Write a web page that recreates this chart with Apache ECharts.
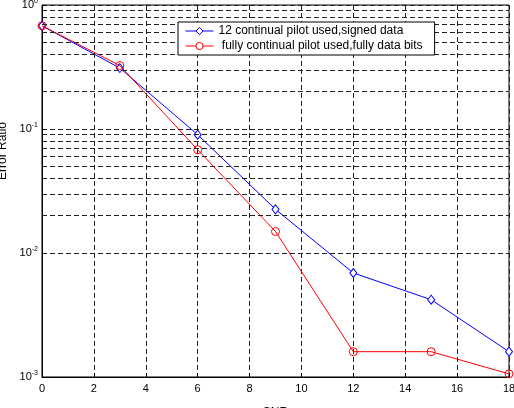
<!DOCTYPE html>
<html>
<head>
<meta charset="utf-8">
<script src="https://cdn.jsdelivr.net/npm/echarts@6/dist/echarts.min.js"></script>
<style>
  html, body { margin: 0; padding: 0; background: #fff; }
  #chart { width: 514px; height: 408px; }
</style>
</head>
<body>
<div id="chart"></div>
<script>
// SNR points and error ratios of the two schemes
var snr = [0, 3, 6, 9, 12, 15, 18];
var signedData = [0.68, 0.31, 0.09, 0.0225, 0.0069, 0.0042, 0.0016];
var fullyData = [0.68, 0.325, 0.068, 0.0149, 0.0016, 0.0016, 0.00106];
var seriesNames = ['12 continual pilot used,signed data', ' fully continual pilot used,fully data bits'];
// minor log grid lines (2..9 in each decade)
var minorGrid = [];
[0.001, 0.01, 0.1].forEach(function (d) {
    for (var k = 2; k <= 9; k++) minorGrid.push(+(k * d).toPrecision(3));
});

function pairs(ys) {
    return snr.map(function (x, i) { return [x, ys[i]]; });
}

var font = '"Liberation Sans", Arial, Helvetica, sans-serif';
var dash = [5, 3];

var myChart = echarts.init(document.getElementById('chart'));
myChart.setOption({
    backgroundColor: '#fff',
    animation: false,
    textStyle: { fontFamily: font },
    grid: {
        left: 42, right: 5, top: 5, bottom: 31,
        outerBoundsMode: 'none',
        containLabel: false,
        show: true,
        borderColor: '#000',
        borderWidth: 1
    },
    legend: {
        left: 178,
        top: 22,
        z: 20,
        orient: 'vertical',
        backgroundColor: '#fff',
        borderColor: '#000',
        borderWidth: 1,
        padding: [3, 12, 3, 7],
        itemWidth: 28,
        itemHeight: 9,
        itemGap: 3,
        textStyle: { fontSize: 12, color: '#000', fontFamily: font },
        data: [
            {
                name: seriesNames[0],
                itemStyle: { color: '#fff', borderColor: '#0000ff', borderWidth: 1 },
                lineStyle: { color: '#0000ff', width: 1 }
            },
            {
                name: seriesNames[1],
                itemStyle: { color: '#fff', borderColor: '#ff0000', borderWidth: 1 },
                lineStyle: { color: '#ff0000', width: 1 }
            }
        ]
    },
    xAxis: {
        type: 'value',
        min: 0,
        max: 18,
        interval: 2,
        name: 'SNR',
        nameLocation: 'middle',
        nameGap: 30,
        nameTextStyle: { fontSize: 12, color: '#000' },
        axisLine: { show: true, lineStyle: { color: '#000' } },
        axisTick: { inside: true, length: 4, lineStyle: { color: '#000' } },
        axisLabel: { fontSize: 11, color: '#000', margin: 6 },
        splitLine: { show: true, lineStyle: { color: '#222', type: dash } }
    },
    yAxis: {
        type: 'log',
        logBase: 10,
        min: 0.001,
        max: 1,
        name: 'Error Ratio',
        nameLocation: 'middle',
        nameGap: 30,
        nameTextStyle: { fontSize: 12, color: '#000', padding: [0, 0, 0, 80] },
        axisLine: { show: true, lineStyle: { color: '#000' } },
        axisTick: { inside: true, length: 4, lineStyle: { color: '#000' } },
        axisLabel: {
            margin: 4,
            color: '#000',
            formatter: function (v) {
                var e = Math.round(Math.log10(v));
                return '{b|10}{s|' + e + '}';
            },
            rich: {
                b: { fontSize: 11, color: '#000' },
                s: { fontSize: 7, color: '#000', padding: [0, 0, 8, 0] }
            }
        },
        splitLine: { show: true, lineStyle: { color: '#222', type: dash } }
    },
    series: [
        {
            name: 'minor grid',
            type: 'line',
            data: [],
            silent: true,
            markLine: {
                silent: true,
                symbol: 'none',
                label: { show: false },
                lineStyle: { color: '#222', type: dash, width: 1 },
                data: minorGrid.map(function (v) { return { yAxis: v }; })
            }
        },
        {
            name: seriesNames[0],
            type: 'line',
            data: pairs(signedData),
            symbol: 'diamond',
            symbolSize: [7, 9],
            lineStyle: { color: '#0000ff', width: 1 },
            itemStyle: { color: '#fff', borderColor: '#0000ff', borderWidth: 1 },
            z: 3
        },
        {
            name: seriesNames[1],
            type: 'line',
            data: pairs(fullyData),
            symbol: 'circle',
            symbolSize: 8,
            lineStyle: { color: '#ff0000', width: 1 },
            itemStyle: { color: 'rgba(255,255,255,0)', borderColor: '#ff0000', borderWidth: 1 },
            z: 4
        }
    ]
});
</script>
</body>
</html>
